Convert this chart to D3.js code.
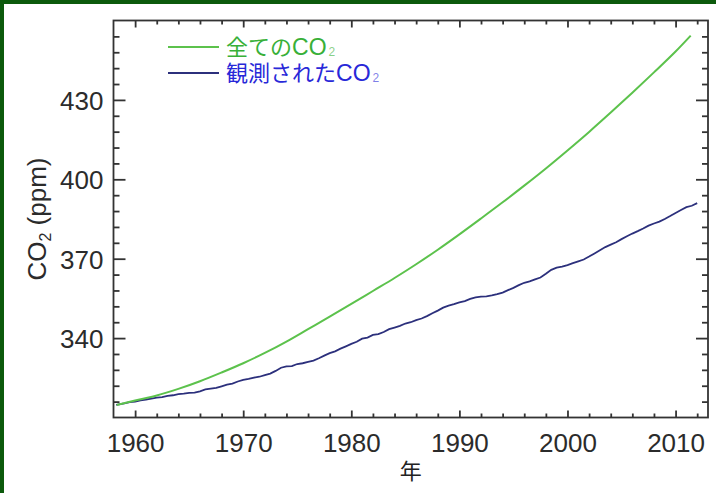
<!DOCTYPE html>
<html>
<head>
<meta charset="utf-8">
<script src="https://cdn.jsdelivr.net/npm/d3@7"></script>
<style>
  body { margin: 0; background: #fff; }
  svg { display: block; }
</style>
</head>
<body>
<div id="chart"></div>
<script>

// total emitted CO2 (green)
var totalYears = [1958.3, 1960, 1962, 1964, 1966, 1968, 1970, 1972, 1974, 1976, 1978, 1980,
                  1982, 1984, 1986, 1988, 1990, 1992, 1994, 1996, 1998, 2000, 2002, 2004,
                  2006, 2008, 2010, 2011.4];
var totalCO2 = [314.7, 316.4, 318.3, 320.8, 323.7, 327.0, 330.5, 334.4, 338.7, 343.4, 348.1, 352.9,
                357.8, 362.7, 367.9, 373.4, 379.2, 385.2, 391.3, 397.6, 404.1, 410.9, 417.9, 425.2,
                432.7, 440.4, 448.3, 454.3];

// observed CO2 (blue), half-year readings
var obsYears = [1958.25, 1958.5, 1959, 1959.5, 1960, 1960.5, 1961, 1961.5, 1962, 1962.5, 1963, 1963.5,
                1964, 1964.5, 1965, 1965.5, 1966, 1966.5, 1967, 1967.5, 1968, 1968.5, 1969, 1969.5,
                1970, 1970.5, 1971, 1971.5, 1972, 1972.5, 1973, 1973.5, 1974, 1974.5, 1975, 1975.5,
                1976, 1976.5, 1977, 1977.5, 1978, 1978.5, 1979, 1979.5, 1980, 1980.5, 1981, 1981.5,
                1982, 1982.5, 1983, 1983.5, 1984, 1984.5, 1985, 1985.5, 1986, 1986.5, 1987, 1987.5,
                1988, 1988.5, 1989, 1989.5, 1990, 1990.5, 1991, 1991.5, 1992, 1992.5, 1993, 1993.5,
                1994, 1994.5, 1995, 1995.5, 1996, 1996.5, 1997, 1997.5, 1998, 1998.5, 1999, 1999.5,
                2000, 2000.5, 2001, 2001.5, 2002, 2002.5, 2003, 2003.5, 2004, 2004.5, 2005, 2005.5,
                2006, 2006.5, 2007, 2007.5, 2008, 2008.5, 2009, 2009.5, 2010, 2010.5, 2011, 2011.5, 2012];
var obsCO2 = [314.8, 315.0, 315.3, 315.8, 316.0, 316.5, 316.8, 317.1, 317.5, 317.7, 318.2, 318.4,
              318.8, 319.0, 319.3, 319.4, 319.9, 320.6, 320.9, 321.2, 321.8, 322.4, 322.8, 323.6,
              324.2, 324.6, 325.1, 325.4, 326.0, 326.6, 327.6, 328.8, 329.3, 329.4, 330.2, 330.5,
              331.0, 331.5, 332.4, 333.4, 334.3, 335.0, 336.0, 336.9, 337.8, 338.6, 339.8, 340.2,
              341.2, 341.5, 342.3, 343.4, 344.0, 344.6, 345.5, 346.0, 346.8, 347.4, 348.3, 349.4,
              350.4, 351.5, 352.3, 352.8, 353.5, 354.0, 354.8, 355.4, 355.7, 355.8, 356.1, 356.6,
              357.2, 358.1, 359.0, 360.0, 360.9, 361.4, 362.2, 362.9, 364.3, 365.8, 366.6, 367.0,
              367.6, 368.3, 369.0, 369.7, 370.8, 372.0, 373.2, 374.4, 375.3, 376.2, 377.4, 378.5,
              379.5, 380.4, 381.4, 382.5, 383.3, 384.0, 385.0, 386.1, 387.3, 388.4, 389.5, 390.0, 391.0];

var xMajorTicks = [1960, 1970, 1980, 1990, 2000, 2010];
var yMajorTicks = [340, 370, 400, 430];
var legendLabels = ["全ての", "観測された"];

var W = 716, H = 493;
var margin = {top: 20.5, right: 8, bottom: 75.5, left: 113.5};
var plotW = W - margin.left - margin.right,
    plotH = H - margin.top - margin.bottom;

var svg = d3.select("#chart").append("svg")
  .attr("width", W)
  .attr("height", H);

svg.append("rect").attr("width", W).attr("height", H).attr("fill", "#fff");

// dark green frame on top and left
svg.append("rect").attr("x", 0).attr("y", 0).attr("width", W).attr("height", 4).attr("fill", "#0c5a0c");
svg.append("rect").attr("x", 0).attr("y", 0).attr("width", 4).attr("height", H).attr("fill", "#0c5a0c");

var g = svg.append("g")
  .attr("transform", "translate(" + margin.left + "," + margin.top + ")");

var x = d3.scaleLinear().domain([1958, 2013]).range([0, plotW]);
var y = d3.scaleLinear().domain([310, 460]).range([plotH, 0]);

var axisColor = "#333";
var xMinor = d3.range(1960, 2013, 2).filter(function(d) { return xMajorTicks.indexOf(d) < 0; });
var yMinor = d3.range(316, 460, 6).filter(function(d) { return yMajorTicks.indexOf(d) < 0; });

// ticks point inward, on all four sides
function drawAxes() {
  var bottom = d3.axisBottom(x).tickValues(xMajorTicks).tickSize(-7).tickPadding(16)
    .tickFormat(d3.format("d"));
  g.append("g").attr("transform", "translate(0," + plotH + ")").call(bottom);
  g.append("g").attr("transform", "translate(0," + plotH + ")")
    .call(d3.axisBottom(x).tickValues(xMinor).tickSize(-4).tickFormat(""));
  g.append("g").call(d3.axisTop(x).tickValues(xMajorTicks).tickSize(-7).tickFormat(""));
  g.append("g").call(d3.axisTop(x).tickValues(xMinor).tickSize(-4).tickFormat(""));

  var left = d3.axisLeft(y).tickValues(yMajorTicks).tickSize(-12).tickPadding(10);
  var gl = g.append("g").call(left);
  g.append("g").call(d3.axisLeft(y).tickValues(yMinor).tickSize(-6).tickFormat(""));
  g.append("g").attr("transform", "translate(" + plotW + ",0)")
    .call(d3.axisRight(y).tickValues(yMajorTicks).tickSize(-12).tickFormat(""));
  g.append("g").attr("transform", "translate(" + plotW + ",0)")
    .call(d3.axisRight(y).tickValues(yMinor).tickSize(-6).tickFormat(""));

  g.selectAll(".domain").remove();
  g.selectAll(".tick line").attr("stroke", axisColor).attr("stroke-width", 1.8);
  g.selectAll(".tick text")
    .attr("fill", "#2b2b2b")
    .style("font-family", "'Liberation Sans', Arial, sans-serif")
    .style("font-size", "26px");
  gl.selectAll(".tick text").attr("dy", "0.36em");
}

// curves
var totalData = totalYears.map(function(d, i) { return {year: d, v: totalCO2[i]}; });
var obsData = obsYears.map(function(d, i) { return {year: d, v: obsCO2[i]}; });

var line = d3.line()
  .x(function(d) { return x(d.year); })
  .y(function(d) { return y(d.v); });

g.append("path")
  .datum(obsData)
  .attr("d", line.curve(d3.curveLinear))
  .attr("fill", "none")
  .attr("stroke", "#2c307c")
  .attr("stroke-width", 1.8);

g.append("path")
  .datum(totalData)
  .attr("d", line.curve(d3.curveCatmullRom))
  .attr("fill", "none")
  .attr("stroke", "#5cc24c")
  .attr("stroke-width", 2);

drawAxes();

g.append("rect")
  .attr("width", plotW).attr("height", plotH)
  .attr("fill", "none").attr("stroke", axisColor).attr("stroke-width", 1.8);

// legend
var legendColors = ["#5cc24c", "#2c307c"];
var legendText = ["#38b038", "#2828d8"];
legendLabels.forEach(function(lbl, i) {
  var ly = 47 + i * 26;
  svg.append("line")
    .attr("x1", 168).attr("x2", 219).attr("y1", ly).attr("y2", ly)
    .attr("stroke", legendColors[i]).attr("stroke-width", 2);
  var t = svg.append("text")
    .attr("x", 226).attr("y", ly + 8)
    .attr("fill", legendText[i])
    .style("font-family", "'Noto Sans CJK JP', sans-serif")
    .style("font-size", "22px");
  t.append("tspan").text(lbl);
  t.append("tspan")
    .style("font-family", "'Liberation Sans', Arial, sans-serif")
    .style("font-size", "23px")
    .text("CO");
  t.append("tspan")
    .attr("dx", 2).attr("dy", 1)
    .style("font-family", "'Liberation Sans', Arial, sans-serif")
    .style("font-size", "12px")
    .attr("fill-opacity", 0.6)
    .text("2");
});

// axis titles
var yt = svg.append("text")
  .attr("transform", "translate(46," + (margin.top + plotH / 2) + ") rotate(-90)")
  .attr("text-anchor", "middle")
  .attr("fill", "#2b2b2b")
  .style("font-family", "'Liberation Sans', Arial, sans-serif")
  .style("font-size", "26px");
yt.append("tspan").text("CO");
yt.append("tspan").attr("dy", 5).style("font-size", "16px").text("2");
yt.append("tspan").attr("dy", -5).text(" (ppm)");

svg.append("text")
  .attr("x", margin.left + plotW / 2)
  .attr("y", 479)
  .attr("text-anchor", "middle")
  .attr("fill", "#222")
  .style("font-family", "'Noto Sans CJK JP', sans-serif")
  .style("font-size", "22px")
  .text("年");

</script>
</body>
</html>
